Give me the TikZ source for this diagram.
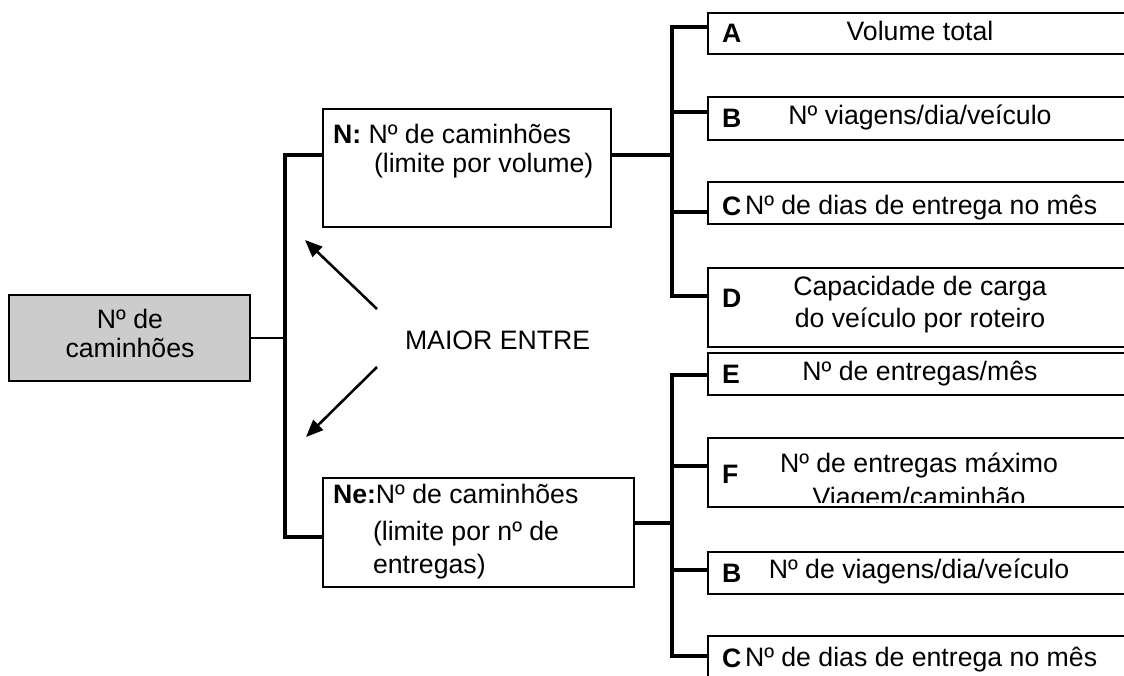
\documentclass[tikz,border=0pt]{standalone}
\usepackage{fontspec}
\setmainfont{Liberation Sans}
\usetikzlibrary{arrows.meta}
\definecolor{rootfill}{gray}{0.8}
\tikzset{
  pbox/.style={draw=black, line width=1.5pt, fill=white, inner sep=0pt, outer sep=0pt},
  conn/.style={line width=2.3pt, line join=miter},
  thinconn/.style={line width=1.6pt},
  txt/.style={inner sep=0pt, outer sep=0pt, font=\fontsize{20}{24}\selectfont},
  lbl/.style={inner sep=0pt, outer sep=0pt, anchor=base west, font=\fontsize{20}{24}\selectfont\bfseries},
  arr/.style={line width=1.9pt, -{Triangle[length=13pt,width=10.5pt]}},
}
% \bx[opts]{name}{x1}{y1}{x2}{y2}
\newcommand{\bx}[6][]{\node[pbox,#1,minimum width={(#5-#3)*0.75pt},minimum height={(#6-#4)*0.75pt}] (#2) at ({(#3+#5)/2},{(#4+#6)/2}) {};}
\begin{document}
\begin{tikzpicture}[x=0.75pt,y=-0.75pt]
\useasboundingbox (0,0) rectangle (1124,675);

% ---------- boxes ----------
\bx[fill=rootfill]{root}{9}{295}{250}{381}
\bx{N}{323}{109}{611}{227}
\bx{Ne}{323}{478}{634}{587}
\bx{A}{708}{13}{1140}{54}
\bx{B}{708}{97}{1140}{140}
\bx{C}{708}{182}{1140}{224}
\bx{D}{708}{268}{1140}{347}
\bx{E}{708}{353}{1140}{395}
\bx{F}{708}{438}{1140}{507}
\bx{Bb}{708}{552}{1140}{594}
\bx{Cb}{708}{636}{1140}{700}

% ---------- junction coordinates ----------
\coordinate (jR) at (285,338);
\coordinate (jN) at (285,155);
\coordinate (jNe) at (285,537);
\coordinate (kN) at (672,155);
\coordinate (kA) at (672,27);
\coordinate (kB) at (672,112);
\coordinate (kC) at (672,212);
\coordinate (kD) at (672,296);
\coordinate (kNe) at (672,523);
\coordinate (kE) at (672,375);
\coordinate (kF) at (672,466);
\coordinate (kBb) at (672,570);
\coordinate (kCb) at (672,656);

% ---------- connectors ----------
\draw[thinconn] (root.east |- jR) -- (jR);
\draw[conn] (jN -| N.west) -- (jN) -- (jNe) -- (jNe -| Ne.west);

\draw[conn] (kN -| N.east) -- (kN);
\draw[conn] (kA -| A.west) -- (kA) -- (kD) -- (kD -| D.west);
\draw[conn] (kB) -- (kB -| B.west);
\draw[conn] (kC) -- (kC -| C.west);

\draw[conn] (kNe -| Ne.east) -- (kNe);
\draw[conn] (kE -| E.west) -- (kE) -- (kCb) -- (kCb -| Cb.west);
\draw[conn] (kF) -- (kF -| F.west);
\draw[conn] (kBb) -- (kBb -| Bb.west);

% ---------- texts ----------
\node[txt, anchor=base] (rt1) at (130,328) {Nº de};
\node[txt, anchor=base] (rt2) at (130,357) {caminhões};

\node[txt, anchor=base west] (Nt1) at (333,143) {\textbf{N:} Nº de caminhões};
\node[txt, anchor=base west] (Nt2) at (374,172) {(limite por volume)};

\node[txt, anchor=base west] (Net1) at (333,503) {\textbf{Ne:}Nº de caminhões};
\node[txt, anchor=base west] (Net2) at (373,540) {(limite por nº de};
\node[txt, anchor=base west] (Net3) at (373,573) {entregas)};

\node[txt, anchor=base west] (maior) at (405,349) {MAIOR ENTRE};

\node[lbl] (lA) at (722,42) {A};
\node[txt, anchor=base] (tA) at (920,40) {Volume total};
\node[lbl] (lB) at (722,127) {B};
\node[txt, anchor=base] (tB) at (920,124) {Nº viagens/dia/veículo};
\node[lbl] (lC) at (722,215) {C};
\node[txt, anchor=base west] (tC) at (745,214) {Nº de dias de entrega no mês};
\node[lbl] (lD) at (722,307) {D};
\node[txt, anchor=base] (tD1) at (920,295) {Capacidade de carga};
\node[txt, anchor=base] (tD2) at (920,327) {do veículo por roteiro};
\node[lbl] (lE) at (722,383) {E};
\node[txt, anchor=base] (tE) at (920,380) {Nº de entregas/mês};
\node[lbl] (lF) at (722,483) {F};
\node[txt, anchor=base] (tF1) at (919,472) {Nº de entregas máximo};
\begin{scope}
  \clip (700,440) rectangle (1130,502);
  \node[txt, anchor=base] (tF2) at (919,506) {Viagem/caminhão};
\end{scope}
\node[lbl] (lBb) at (722,582) {B};
\node[txt, anchor=base] (tBb) at (919,578) {Nº de viagens/dia/veículo};
\node[lbl] (lCb) at (722,667) {C};
\node[txt, anchor=base west] (tCb) at (745,666) {Nº de dias de entrega no mês};

% ---------- arrows ----------
\coordinate (a1s) at (377,309);
\coordinate (a1e) at (305,240);
\coordinate (a2s) at (377,367);
\coordinate (a2e) at (306,437);
\draw[arr] (a1s) -- (a1e);
\draw[arr] (a2s) -- (a2e);
\end{tikzpicture}
\end{document}
